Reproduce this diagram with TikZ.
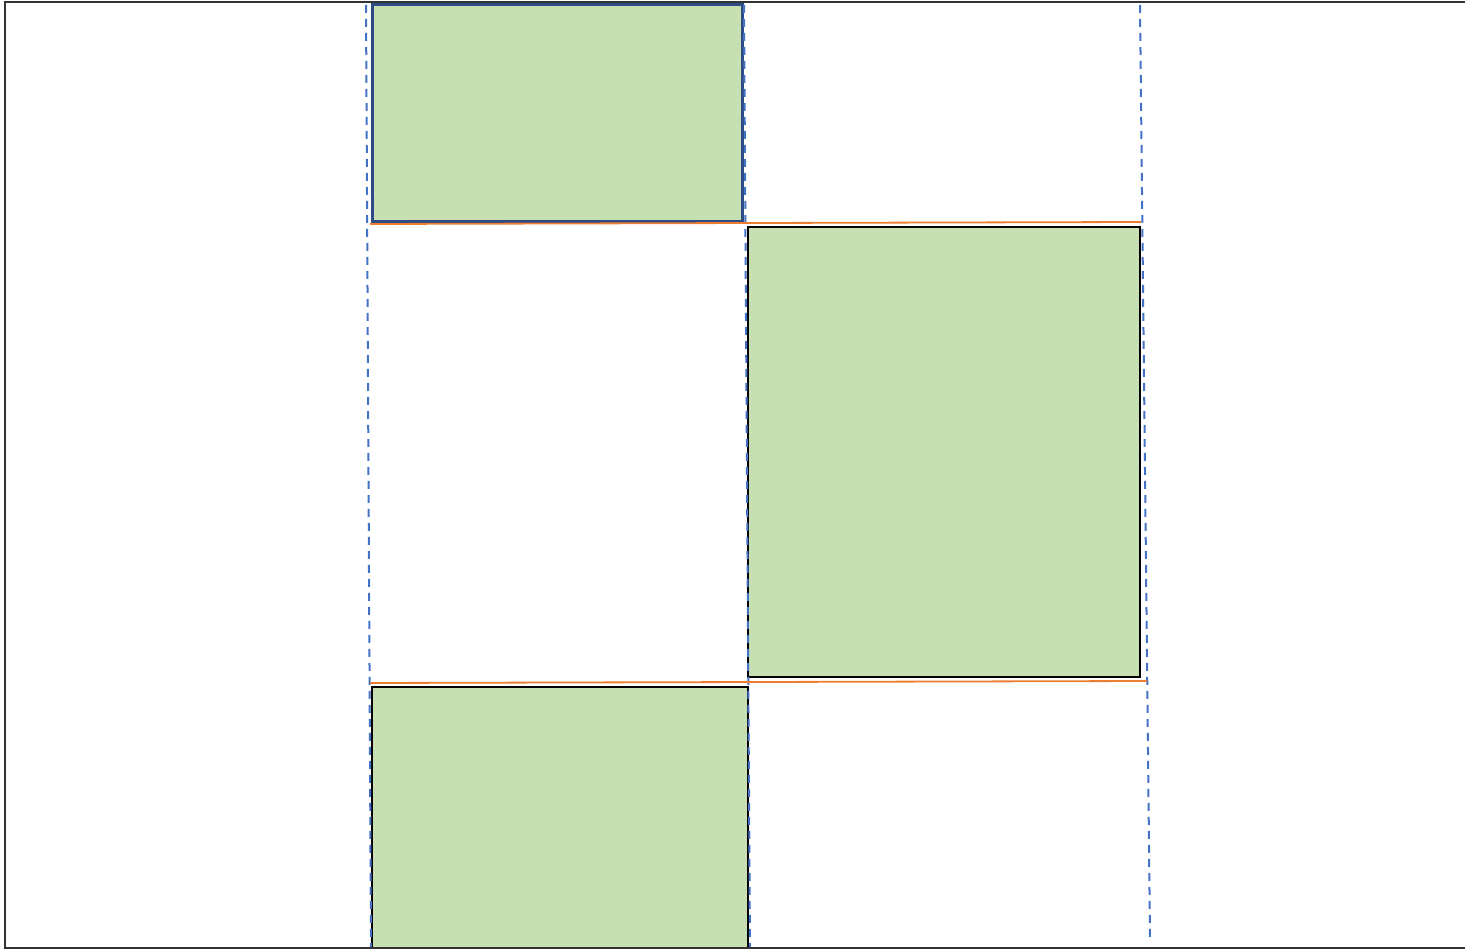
\documentclass[tikz,border=0pt]{standalone}
\usepackage{tikz}
\usetikzlibrary{positioning}
\definecolor{cellgreen}{HTML}{C6E0B4}
\definecolor{guideblue}{HTML}{4472C4}
\definecolor{edgeorange}{HTML}{ED7D31}
\definecolor{darkblue}{HTML}{2F4B85}
\tikzset{
  cell/.style={draw=black, rectangle, fill=cellgreen, inner sep=0pt, outer sep=0pt, anchor=north west, line width=1.4pt},
  topcell/.style={cell, draw=darkblue, line width=3pt},
  guide/.style={draw=guideblue, line width=2pt, dash pattern=on 8pt off 6pt},
  edge/.style={draw=edgeorange, line width=1.8pt},
  frame/.style={draw=black!80, line width=1.6pt}
}

\begin{document}
\begin{tikzpicture}[x=1pt, y=-1pt]
\useasboundingbox (0,0) rectangle (1465,949);

% green cells
\node[topcell, minimum width=370pt, minimum height=217pt] (c1) at (372,5) {};
\node[cell, minimum width=392pt, minimum height=450pt] (c2) at (748,227) {};
\node[cell, minimum width=376pt, minimum height=265pt] (c3) at (372,687) {};

% column guides
\coordinate (g1t) at (366,5);   \coordinate (g1b) at (371,949);
\coordinate (g2t) at (744,5);   \coordinate (g2b) at (750,949);
\coordinate (g3t) at (1140,5);  \coordinate (g3b) at (1150,938);
\draw[guide] (g1t) -- (g1b);
\draw[guide] (g2t) -- (g2b);
\draw[guide] (g3t) -- (g3b);

% row edges
\coordinate (e1l) at (370,224); \coordinate (e1r) at (1141,222);
\coordinate (e2l) at (370,683); \coordinate (e2r) at (1147,681);
\draw[edge] (e1l) -- (e1r);
\draw[edge] (e2l) -- (e2r);

% outer frame (right side runs off the page)
\draw[frame] (1470,2) -- (5,2) -- (5,948) -- (1470,948);

\end{tikzpicture}
\end{document}
